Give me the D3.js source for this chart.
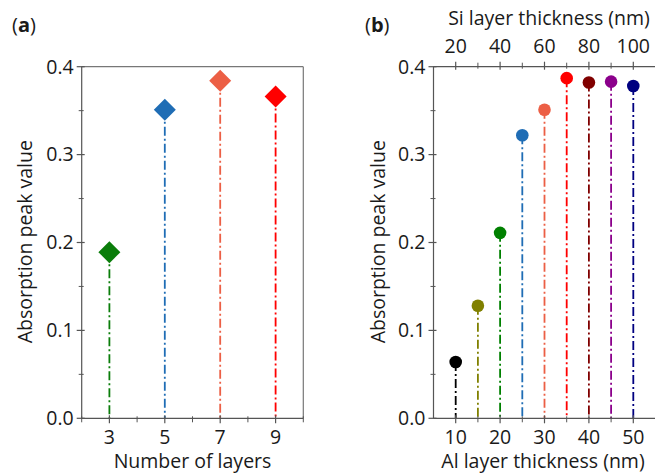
<!DOCTYPE html>
<html>
<head>
<meta charset="utf-8">
<script src="https://cdn.jsdelivr.net/npm/d3@7/dist/d3.min.js"></script>
<style>
  body { margin: 0; background: #fff; }
  svg text { font-family: "Open Sans", "Noto Sans", sans-serif; fill: #1a1a1a; }
</style>
</head>
<body>
<script>
// panel (a) data
var layers = [3, 5, 7, 9];
var layer_peaks = [0.189, 0.351, 0.384, 0.366];
var layer_colors = ["#0a7d0a", "#1f6db5", "#ec5f45", "#ff0000"];

// panel (b) data
var al_thickness = [10, 15, 20, 25, 30, 35, 40, 45, 50];
var al_peaks = [0.064, 0.128, 0.211, 0.322, 0.351, 0.387, 0.382, 0.383, 0.378];
var al_colors = ["#000000", "#808000", "#008000", "#1f6db5", "#ec5f45", "#ff0000", "#800000", "#8b008b", "#000080"];

var x_ticks_a = [3, 5, 7, 9];
var x_ticks_b = [10, 20, 30, 40, 50];
var si_ticks = [20, 40, 60, 80, 100];
var y_ticks = [0, 0.1, 0.2, 0.3, 0.4];

var w = 655, h = 474;
var top_y = 66.7, bottom_y = 418.3;
var axis_col = "#555";
var dash = "9,3,2,3";
var fs = "19.5px";

var svg = d3.select("body").append("svg")
  .attr("width", w)
  .attr("height", h);

var y = d3.scaleLinear().domain([0, 0.4]).range([bottom_y, top_y]);

// ---------- helpers
function draw_y_axis(x0){
  var g = svg.append("g");
  g.append("line")
    .attr("x1", x0).attr("x2", x0)
    .attr("y1", top_y).attr("y2", bottom_y)
    .style("stroke", axis_col).style("stroke-width", 1.2);
  var minor = d3.range(0.05, 0.4, 0.1);
  g.selectAll("line.major").data(y_ticks).enter().append("line")
    .attr("class", "major")
    .attr("x1", x0 - 5).attr("x2", x0 + 3)
    .attr("y1", function(d){ return y(d); })
    .attr("y2", function(d){ return y(d); })
    .style("stroke", axis_col).style("stroke-width", 1.2);
  g.selectAll("line.minor").data(minor).enter().append("line")
    .attr("class", "minor")
    .attr("x1", x0 - 3).attr("x2", x0 + 2)
    .attr("y1", function(d){ return y(d); })
    .attr("y2", function(d){ return y(d); })
    .style("stroke", axis_col).style("stroke-width", 1);
  g.selectAll("text").data(y_ticks).enter().append("text")
    .attr("x", x0 - 8)
    .attr("y", function(d){ return y(d); })
    .attr("dy", "0.35em")
    .attr("text-anchor", "end")
    .style("font-size", fs)
    .text(function(d){ return d3.format(".1f")(d); });
}

function draw_x_axis(scale, yy, major, minor, labels, up, label_y){
  var g = svg.append("g");
  g.append("line")
    .attr("x1", scale.range()[0]).attr("x2", scale.range()[1])
    .attr("y1", yy).attr("y2", yy)
    .style("stroke", axis_col).style("stroke-width", 1.2);
  var s = up ? -1 : 1;
  g.selectAll("line.major").data(major).enter().append("line")
    .attr("class", "major")
    .attr("x1", function(d){ return scale(d); })
    .attr("x2", function(d){ return scale(d); })
    .attr("y1", yy - 3 * s).attr("y2", yy + 5 * s)
    .style("stroke", axis_col).style("stroke-width", 1.2);
  g.selectAll("line.minor").data(minor).enter().append("line")
    .attr("class", "minor")
    .attr("x1", function(d){ return scale(d); })
    .attr("x2", function(d){ return scale(d); })
    .attr("y1", yy - 2 * s).attr("y2", yy + 4 * s)
    .style("stroke", axis_col).style("stroke-width", 1);
  if(labels){
    g.selectAll("text").data(major).enter().append("text")
      .attr("x", function(d){ return scale(d); })
      .attr("y", label_y)
      .attr("dy", "0.35em")
      .attr("text-anchor", "middle")
      .style("font-size", fs)
      .text(function(d){ return d; });
  }
}

function panel_label(x0, letter){
  var t = svg.append("text")
    .attr("x", x0).attr("y", 32)
    .style("font-size", "20px");
  t.append("tspan").text("(");
  t.append("tspan").style("font-weight", "bold").text(letter);
  t.append("tspan").text(")");
}

function y_title(xc){
  svg.append("text")
    .attr("transform", "translate(" + xc + "," + 241.7 + ") rotate(-90)")
    .attr("text-anchor", "middle")
    .attr("dy", "0.35em")
    .style("font-size", fs)
    .text("Absorption peak value");
}

// ---------- panel (a)
var xa = d3.scaleLinear().domain([2, 10]).range([81.7, 303.3]);

// frame top / right
svg.append("line")
  .attr("x1", xa(2)).attr("x2", xa(10)).attr("y1", top_y).attr("y2", top_y)
  .style("stroke", "#777").style("stroke-width", 1.2);
svg.append("line")
  .attr("x1", xa(10)).attr("x2", xa(10)).attr("y1", top_y).attr("y2", bottom_y)
  .style("stroke", "#777").style("stroke-width", 1.2);

svg.selectAll("line.drop_a").data(layers).enter().append("line")
  .attr("class", "drop_a")
  .attr("x1", function(d){ return xa(d); })
  .attr("x2", function(d){ return xa(d); })
  .attr("y1", function(d, i){ return y(layer_peaks[i]); })
  .attr("y2", y(0))
  .style("stroke", function(d, i){ return layer_colors[i]; })
  .style("stroke-width", 1.8)
  .style("stroke-dasharray", dash);

draw_y_axis(xa(2));
draw_x_axis(xa, bottom_y, x_ticks_a, [2, 4, 6, 8, 10], true, false, 437);

svg.selectAll("path.diamond").data(layers).enter().append("path")
  .attr("class", "diamond")
  .attr("transform", function(d, i){
    return "translate(" + xa(d) + "," + y(layer_peaks[i]) + ")";
  })
  .attr("d", "M0,-11L11,0L0,11L-11,0Z")
  .style("fill", function(d, i){ return layer_colors[i]; });

svg.append("text")
  .attr("x", 192.5)
  .attr("y", 461)
  .attr("dy", "0.35em")
  .attr("text-anchor", "middle")
  .style("font-size", fs)
  .text("Number of layers");

y_title(25);
panel_label(12, "a");

// ---------- panel (b)
var xb = d3.scaleLinear().domain([5, 55]).range([433.5, 655.5]);
var xs = d3.scaleLinear().domain([10, 110]).range([433.5, 655.5]);

svg.selectAll("line.drop_b").data(al_thickness).enter().append("line")
  .attr("class", "drop_b")
  .attr("x1", function(d){ return xb(d); })
  .attr("x2", function(d){ return xb(d); })
  .attr("y1", function(d, i){ return y(al_peaks[i]); })
  .attr("y2", y(0))
  .style("stroke", function(d, i){ return al_colors[i]; })
  .style("stroke-width", 1.8)
  .style("stroke-dasharray", dash);

draw_y_axis(xb(5));
draw_x_axis(xb, bottom_y, x_ticks_b, [15, 25, 35, 45, 55], true, false, 437);
draw_x_axis(xs, top_y, si_ticks, [30, 50, 70, 90, 110], true, true, 46);

svg.selectAll("circle.pt").data(al_thickness).enter().append("circle")
  .attr("class", "pt")
  .attr("cx", function(d){ return xb(d); })
  .attr("cy", function(d, i){ return y(al_peaks[i]); })
  .attr("r", 6.3)
  .style("fill", function(d, i){ return al_colors[i]; });

svg.append("text")
  .attr("x", 543)
  .attr("y", 461)
  .attr("dy", "0.35em")
  .attr("text-anchor", "middle")
  .style("font-size", fs)
  .text("Al layer thickness (nm)");

svg.append("text")
  .attr("x", 549)
  .attr("y", 18)
  .attr("dy", "0.35em")
  .attr("text-anchor", "middle")
  .style("font-size", fs)
  .text("Si layer thickness (nm)");

y_title(378);
panel_label(365, "b");
</script>
</body>
</html>
